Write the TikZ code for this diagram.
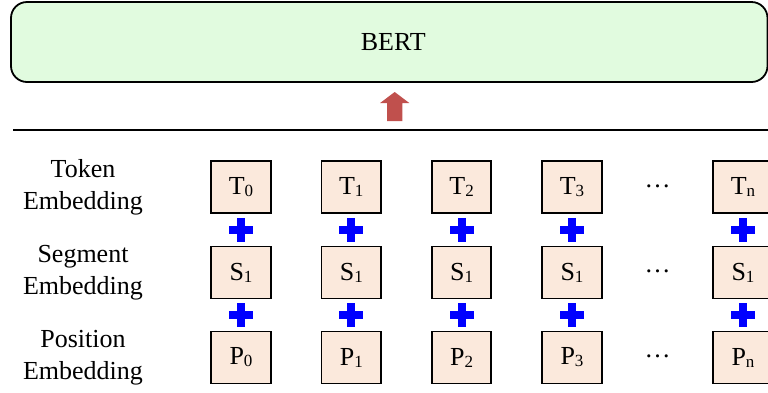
\documentclass[tikz,border=0pt]{standalone}
\usepackage{fontspec}
\setmainfont{Liberation Serif}
\definecolor{bertfill}{HTML}{E1FBDF}
\definecolor{embfill}{HTML}{FBE9DC}
\definecolor{plusblue}{HTML}{0000FF}
\definecolor{arrowred}{HTML}{C0504D}
% small lowered index used in the embedding boxes
\newcommand{\subidx}[1]{\raisebox{-2pt}{\fontsize{17}{17}\selectfont #1}}
\begin{document}
\begin{tikzpicture}[x=1pt,y=-1pt,
  every node/.style={font=\fontsize{26}{32}\selectfont, inner sep=0pt},
  bertbox/.style={draw=black, line width=1.8pt, fill=bertfill, rounded corners=16pt},
  embbox/.style={draw=black, line width=1.8pt, fill=embfill,
                 minimum width=59.5pt, minimum height=52pt},
  rowlabel/.style={align=center},
  plussign/.pic={
    \fill[plusblue] (-12,-3.7) rectangle (12,3.7);
    \fill[plusblue] (-4,-12) rectangle (4,12);
  }]
  \useasboundingbox (0,0) rectangle (768,392);
  \clip (0,0) rectangle (768,392);

  % BERT block
  \node[bertbox, minimum width=756.5pt, minimum height=80pt,
        text width=756.5pt, align=center] (bert) at (389.25,42) {\hspace*{8pt}BERT};

  % upward block arrow into BERT
  \coordinate (arrowbase) at (394.7,121);
  \fill[arrowred] (arrowbase) ++(-7.6,0) -- ++(0,-18) -- ++(-7,0)
        -- (394.7,92) -- (409.3,103) -- ++(-7,0) -- ++(0,18) -- cycle;

  % separator line
  \coordinate (sepL) at (13,130);
  \coordinate (sepR) at (768,130);
  \draw[line width=2pt] (sepL) -- (sepR);

  % row labels
  \node[rowlabel] (ltok) at (83,187) {Token\\Embedding};
  \node[rowlabel] (lseg) at (83,272.5) {Segment\\Embedding};
  \node[rowlabel] (lpos) at (83,357.5) {Position\\Embedding};

  % embedding columns
  \foreach \c/\x in {0/241, 1/351.3, 2/461.6, 3/572, n/743}{
    \node[embbox] (t\c) at (\x,187)   {T\subidx{\c}};
    \node[embbox] (s\c) at (\x,272.5) {S\subidx{1}};
    \node[embbox] (p\c) at (\x,357.5) {P\subidx{\c}};
    \path (\x,230) pic {plussign};
    \path (\x,315) pic {plussign};
  }

  % ellipses between column 3 and column n
  \node (dt) at (657.5,186)   {…};
  \node (ds) at (657.5,271.5) {…};
  \node (dp) at (657.5,356.5) {…};
\end{tikzpicture}
\end{document}
